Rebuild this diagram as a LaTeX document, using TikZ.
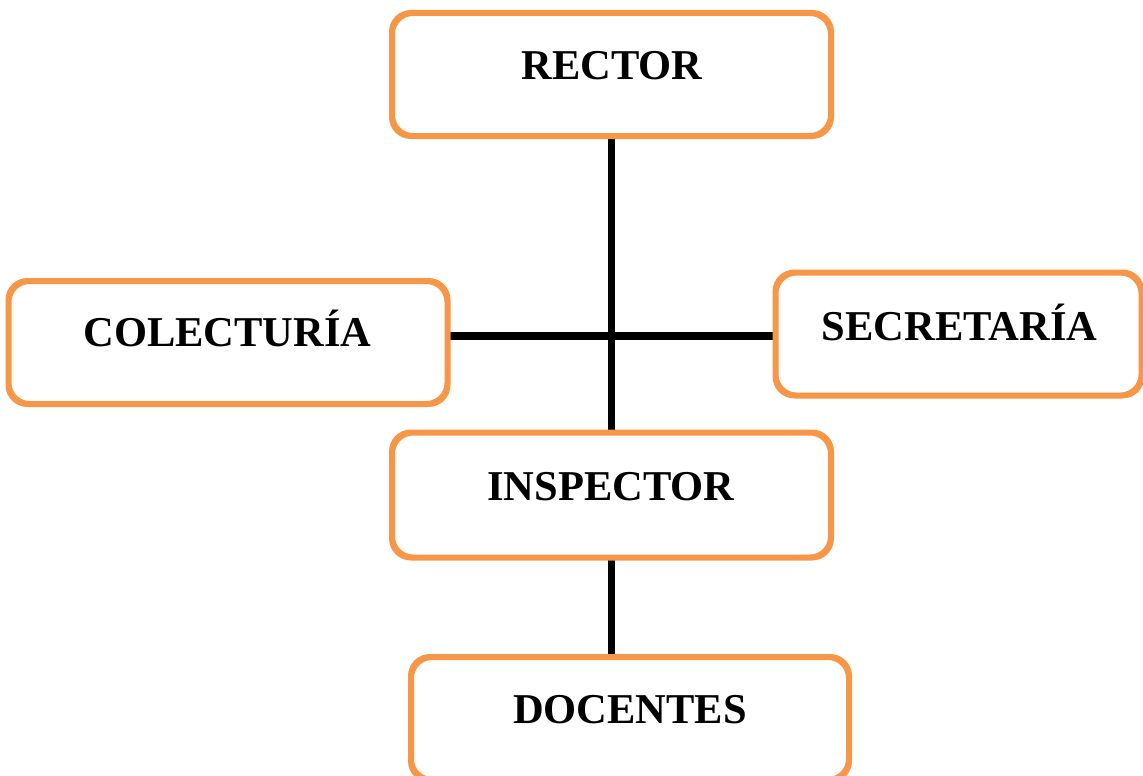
\documentclass[tikz,border=0pt]{standalone}
\usepackage{fontspec}
\setmainfont{Liberation Serif}
\definecolor{boxorange}{HTML}{F79646}
\begin{document}
\begin{tikzpicture}[x=1pt,y=-1pt,
  orgbox/.style={draw=boxorange, line width=4pt, rounded corners=20pt,
    fill=white, inner sep=0pt},
  orglabel/.style={anchor=base, inner sep=0pt,
    font=\fontsize{42.5}{48}\selectfont\bfseries},
  link/.style={draw=black, line width=7.5pt}]
\useasboundingbox (0,0) rectangle (1143,776);
\clip (0,0) rectangle (1143,776);
% boxes
\node[orgbox, minimum width=437pt, minimum height=121pt] (rector) at (611.5,74.5) {};
\node[orgbox, minimum width=437pt, minimum height=121pt] (colecturia) at (228,342.5) {};
\node[orgbox, minimum width=364pt, minimum height=121pt] (secretaria) at (958.5,334) {};
\node[orgbox, minimum width=437pt, minimum height=123pt] (inspector) at (611.5,495) {};
\node[orgbox, minimum width=436pt, minimum height=121pt] (docentes) at (630,718.5) {};
% connectors
\coordinate (junction) at (612,336);
\draw[link] (rector.south) -- (inspector.north);
\draw[link] (colecturia.east |- junction) -- (secretaria.west |- junction);
\draw[link] (inspector.south) -- (inspector.south |- docentes.north);
% redraw box outlines over the line ends
\foreach \b in {rector,colecturia,secretaria,inspector,docentes}
  \draw[draw=boxorange, line width=4pt, rounded corners=20pt]
    (\b.south west) rectangle (\b.north east);
% labels
\node[orglabel] (rectorT) at (612,80) {RECTOR};
\node[orglabel] (colecturiaT) at (227.5,346) {COLECTURÍA};
\node[orglabel] (secretariaT) at (959.5,340) {SECRETARÍA};
\node[orglabel] (inspectorT) at (611,500) {INSPECTOR};
\node[orglabel] (docentesT) at (630,723) {DOCENTES};
\end{tikzpicture}
\end{document}
